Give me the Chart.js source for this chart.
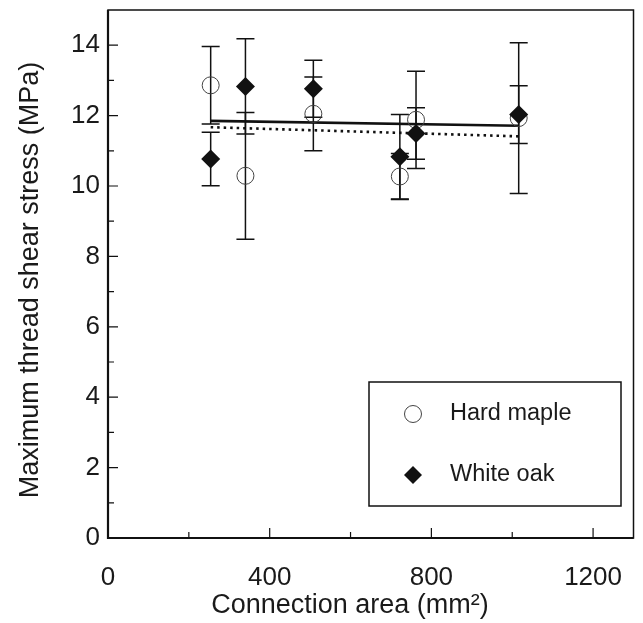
<!DOCTYPE html>
<html>
<head>
<meta charset="utf-8">
<script src="https://cdn.jsdelivr.net/npm/chart.js@4/dist/chart.umd.min.js"></script>
<style>
  html, body { margin: 0; padding: 0; background: #fff; }
  #wrap { width: 643px; height: 623px; position: relative; }
</style>
</head>
<body>
<div id="wrap"><canvas id="c" width="643" height="623"></canvas></div>
<script>
// ---- data ----
const areas = [254, 340, 508, 722, 762, 1016];            // connection area (mm²)
const mapleMean = [12.86, 10.29, 12.05, 10.27, 11.88, 11.93];
const mapleErr  = [1.10, 1.80, 1.05, 0.65, 1.38, 2.14];
const oakMean   = [10.77, 12.83, 12.76, 10.83, 11.49, 12.03];
const oakErr    = [0.76, 1.35, 0.81, 1.20, 0.73, 0.82];
const fitX      = [254, 1016];
const oakFit    = [11.85, 11.71];
const mapleFit  = [11.67, 11.41];
const xTicks = [0, 400, 800, 1200];
const yTicks = [0, 2, 4, 6, 8, 10, 12, 14];
const xMinor = [200, 600, 1000];
const yMinor = [1, 3, 5, 7, 9, 11, 13];
const seriesNames = ['Hard maple', 'White oak'];
const xTitle = 'Connection area (mm²)';
const yTitle = 'Maximum thread shear stress (MPa)';

const FONT = "'Liberation Sans', Arial, sans-serif";
const pts = (xs, ys) => xs.map((x, i) => ({x: x, y: ys[i]}));

const errorBars = {
  id: 'errorBars',
  beforeDatasetsDraw(chart) {
    const {ctx, scales: {x, y}} = chart;
    ctx.save();
    ctx.strokeStyle = '#111';
    ctx.lineWidth = 1.5;
    const cap = 9;
    const draw = (means, errs) => {
      areas.forEach((a, i) => {
        const px = x.getPixelForValue(a);
        const top = y.getPixelForValue(means[i] + errs[i]);
        const bot = y.getPixelForValue(means[i] - errs[i]);
        ctx.beginPath();
        ctx.moveTo(px, top); ctx.lineTo(px, bot);
        ctx.moveTo(px - cap, top); ctx.lineTo(px + cap, top);
        ctx.moveTo(px - cap, bot); ctx.lineTo(px + cap, bot);
        ctx.stroke();
      });
    };
    draw(mapleMean, mapleErr);
    draw(oakMean, oakErr);
    ctx.restore();
  }
};

const frame = {
  id: 'frame',
  afterDraw(chart) {
    const {ctx, chartArea: a, scales: {x, y}} = chart;
    ctx.save();
    ctx.strokeStyle = '#111';
    ctx.lineWidth = 1.2;
    ctx.beginPath();
    xTicks.forEach(v => { const p = x.getPixelForValue(v); ctx.moveTo(p, a.bottom); ctx.lineTo(p, a.bottom - 10); });
    xMinor.forEach(v => { const p = x.getPixelForValue(v); ctx.moveTo(p, a.bottom); ctx.lineTo(p, a.bottom - 6); });
    yTicks.forEach(v => { const p = y.getPixelForValue(v); ctx.moveTo(a.left, p); ctx.lineTo(a.left + 10, p); });
    yMinor.forEach(v => { const p = y.getPixelForValue(v); ctx.moveTo(a.left, p); ctx.lineTo(a.left + 6, p); });
    ctx.stroke();
    ctx.lineWidth = 1.5;
    ctx.strokeRect(a.left, a.top, a.right - a.left, a.bottom - a.top);
    ctx.lineWidth = 2.2;
    ctx.beginPath();
    ctx.moveTo(a.left, a.top); ctx.lineTo(a.left, a.bottom); ctx.lineTo(a.right, a.bottom);
    ctx.stroke();

    // axis titles
    ctx.fillStyle = '#1a1a1a';
    ctx.font = '27px ' + FONT;
    ctx.textAlign = 'center';
    ctx.textBaseline = 'middle';
    ctx.fillText(xTitle, 350, 606);
    ctx.save();
    ctx.translate(31, 280);
    ctx.rotate(-Math.PI / 2);
    ctx.fillText(yTitle, 0, 0);
    ctx.restore();

    // legend
    const bx = a.left + 261, by = a.top + 372, bw = 252, bh = 124;
    ctx.fillStyle = '#fff';
    ctx.fillRect(bx, by, bw, bh);
    ctx.lineWidth = 1.5;
    ctx.strokeRect(bx, by, bw, bh);
    const rows = [by + 32, by + 93];
    ctx.lineWidth = 1;
    ctx.strokeStyle = '#444';
    ctx.beginPath(); ctx.arc(bx + 44, rows[0], 8.5, 0, Math.PI * 2); ctx.stroke();
    ctx.fillStyle = '#111';
    ctx.beginPath();
    const dx = bx + 44, dy = rows[1], r = 9;
    ctx.moveTo(dx, dy - r); ctx.lineTo(dx + r, dy); ctx.lineTo(dx, dy + r); ctx.lineTo(dx - r, dy); ctx.closePath();
    ctx.fill();
    ctx.fillStyle = '#1a1a1a';
    ctx.font = '23.5px ' + FONT;
    ctx.textBaseline = 'middle';
    ctx.textAlign = 'left';
    ctx.fillText(seriesNames[0], bx + 81, rows[0]);
    ctx.fillText(seriesNames[1], bx + 81, rows[1]);
    ctx.restore();
  }
};

new Chart(document.getElementById('c'), {
  type: 'scatter',
  data: {
    datasets: [
      {
        label: 'White oak fit', type: 'line', data: pts(fitX, oakFit),
        borderColor: '#111', borderWidth: 2.6, pointRadius: 0, fill: false, order: 4
      },
      {
        label: 'Hard maple fit', type: 'line', data: pts(fitX, mapleFit),
        borderColor: '#111', borderWidth: 2.6, borderDash: [2.5, 4], pointRadius: 0, fill: false, order: 3
      },
      {
        label: seriesNames[0], data: pts(areas, mapleMean),
        pointStyle: 'circle', pointRadius: 8.5, pointBorderWidth: 1,
        pointBorderColor: '#444', pointBackgroundColor: 'rgba(0,0,0,0)', order: 2
      },
      {
        label: seriesNames[1], data: pts(areas, oakMean),
        pointStyle: 'rectRot', pointRadius: 9.5, pointBorderWidth: 0,
        pointBorderColor: '#111', pointBackgroundColor: '#111', order: 1
      }
    ]
  },
  options: {
    responsive: false,
    animation: false,
    events: [],
    layout: { padding: { top: 10, right: 3, left: 0, bottom: 0 } },
    plugins: { legend: { display: false }, tooltip: { enabled: false } },
    scales: {
      x: {
        type: 'linear', min: 0, max: 1300,
        afterBuildTicks: s => { s.ticks = xTicks.map(v => ({value: v})); },
        afterFit: s => { s.height = 85; s.paddingLeft = 0; s.paddingRight = 0; },
        grid: { display: false, drawTicks: false },
        border: { display: false },
        ticks: { color: '#1a1a1a', font: { family: FONT, size: 26 }, padding: 24, maxRotation: 0,
                 callback: v => String(v) },
        title: { display: false }
      },
      y: {
        type: 'linear', min: 0, max: 15,
        afterBuildTicks: s => { s.ticks = yTicks.map(v => ({value: v})); },
        afterFit: s => { s.width = 108; s.paddingTop = 0; s.paddingBottom = 0; },
        grid: { display: false, drawTicks: false },
        border: { display: false },
        ticks: { color: '#1a1a1a', font: { family: FONT, size: 26 }, padding: 8,
                 callback: v => String(v) },
        title: { display: false }
      }
    }
  },
  plugins: [errorBars, frame]
});
</script>
</body>
</html>
